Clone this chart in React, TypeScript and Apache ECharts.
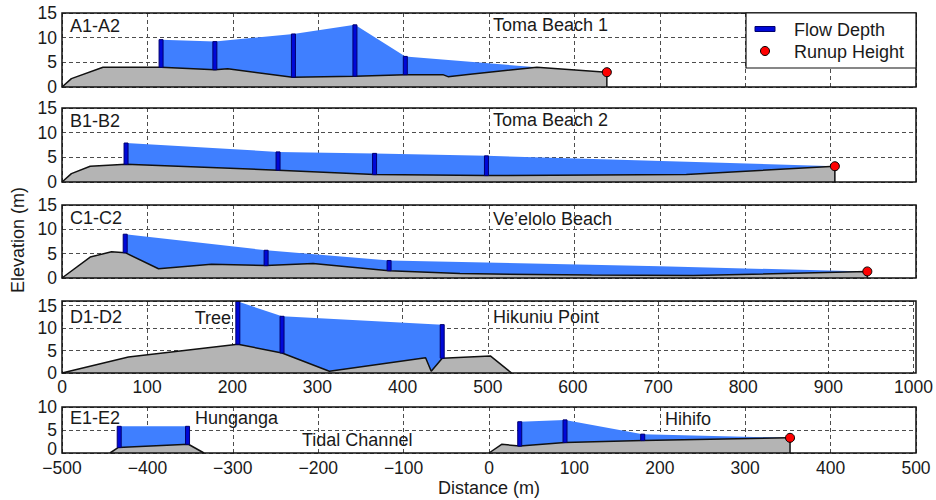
import React, { useEffect, useRef } from "react";
import * as echarts from "echarts";

// Transect profiles: [distance (m), elevation (m)].
// Flow depth readings: [distance (m), ground elevation (m), water surface elevation (m)].

const groundA = [[0, 0], [11, 1.7], [48, 4.0], [116, 4.0], [179, 3.5], [194, 3.7], [270, 2.0], [343, 2.2], [402, 2.5], [446, 2.5], [452, 2.1], [478, 2.6], [556, 4.0], [638, 3.0], [638, 0]];
const depthA = [[116, 4.0, 9.6], [179, 3.5, 9.2], [271, 2.0, 10.75], [343, 2.2, 12.6], [402, 2.5, 6.2]];
const surfaceTailA = [[556, 4.0]];
const runupA = [[638, 3.0]];

const groundB = [[0, 0], [11, 1.7], [33, 3.2], [75, 3.6], [253, 2.4], [366, 1.5], [497, 1.3], [731, 1.5], [905, 3.2], [905, 0]];
const depthB = [[75, 3.6, 7.9], [253, 2.4, 6.1], [366, 1.5, 5.8], [497, 1.3, 5.3]];
const surfaceTailB = [[905, 3.2]];
const runupB = [[905, 3.2]];

const groundC = [[0, 0], [33, 4.3], [58, 5.4], [74, 5.2], [113, 1.9], [175, 2.85], [239, 2.55], [294, 3.0], [383, 1.5], [466, 0.9], [620, 0.6], [739, 0.5], [943, 1.35], [943, 0]];
const depthC = [[74, 5.2, 9.0], [239, 2.55, 5.7], [383, 1.5, 3.6]];
const surfaceTailC = [[700, 2.4], [943, 1.35]];
const runupC = [[943, 1.35]];

const groundD = [[0, 0], [78, 3.55], [206.5, 6.4], [258.4, 4.45], [314, 0.4], [427, 3.4], [433.6, 0.4], [446.5, 3.3], [503, 3.8], [528, 0]];
const depthD = [[206.5, 6.4, 15.9], [258.4, 4.45, 12.6], [446.5, 3.3, 10.75]];

const groundE1 = [[-443.8, 0], [-434, 1.2], [-352, 1.9], [-333.7, 0]];
const depthE1 = [[-433, 1.2, 5.8], [-353, 1.9, 5.8]];
const groundE2 = [[0, 0], [14.8, 1.9], [36, 1.5], [89, 2.3], [180, 2.7], [350.5, 3.3], [352.5, 3.3], [352.5, 0]];
const depthE2 = [[36, 1.5, 6.8], [89, 2.3, 7.2], [180, 2.7, 4.1]];
const surfaceTailE2 = [[352.5, 3.3]];
const runupE2 = [[352.5, 3.3]];

const ticksTop = { min: 0, max: 1000 };
const ticksBottom = { min: -500, max: 500 };

const FONT = "'Liberation Sans', Arial, Helvetica, sans-serif";
const INK = "#1a1a1a";
const WATER = "#3f7fff";
const GROUND = "#b4b4b4";
const POST_FILL = "#0008d8";
const POST_EDGE = "#00006e";
const RUNUP = "#ff0000";

const LEFT = 62;
const WIDTH = 854;

const panels = [
  { top: 13, height: 74, x: ticksTop, yMax: 15, showX: false, liftZero: false },
  { top: 108, height: 74, x: ticksTop, yMax: 15, showX: false, liftZero: false },
  { top: 205, height: 73, x: ticksTop, yMax: 15, showX: false, liftZero: false },
  { top: 301, height: 72, x: ticksTop, yMax: 16, showX: true, liftZero: false },
  { top: 407, height: 46, x: ticksBottom, yMax: 10, showX: true, liftZero: true },
];

const profiles = [
  { panel: 0, grounds: [groundA], waters: [{ depth: depthA, tail: surfaceTailA }], runup: runupA },
  { panel: 1, grounds: [groundB], waters: [{ depth: depthB, tail: surfaceTailB }], runup: runupB },
  { panel: 2, grounds: [groundC], waters: [{ depth: depthC, tail: surfaceTailC }], runup: runupC },
  { panel: 3, grounds: [groundD], waters: [{ depth: depthD, tail: [] }], runup: [] },
  {
    panel: 4,
    grounds: [groundE1, groundE2],
    waters: [{ depth: depthE1, tail: [] }, { depth: depthE2, tail: surfaceTailE2 }],
    runup: runupE2,
  },
];

const annotations = [
  { text: "A1-A2", x: 70, y: 26 },
  { text: "Toma Beach 1", x: 493, y: 25 },
  { text: "B1-B2", x: 70, y: 121 },
  { text: "Toma Beach 2", x: 493, y: 120 },
  { text: "C1-C2", x: 70, y: 218 },
  { text: "Ve\u2019elolo Beach", x: 493, y: 219 },
  { text: "D1-D2", x: 70, y: 317 },
  { text: "Tree", x: 231, y: 318, align: "right" },
  { text: "Hikuniu Point", x: 493, y: 317 },
  { text: "E1-E2", x: 70, y: 418 },
  { text: "Hunganga", x: 195, y: 418 },
  { text: "Tidal Channel", x: 302, y: 440 },
  { text: "Hihifo", x: 665, y: 419 },
];

function renderPost(_params: any, api: any) {
  const x = api.value(0);
  const lo = api.coord([x, api.value(1)]);
  const hi = api.coord([x, api.value(2)]);
  return {
    type: "rect",
    shape: { x: lo[0] - 2, y: hi[1], width: 4, height: lo[1] - hi[1] },
    style: { fill: POST_FILL, stroke: POST_EDGE, lineWidth: 1 },
  };
}

function buildOption() {
  const tickLabel = {
    color: INK,
    fontFamily: FONT,
    fontSize: 17.5,
  };
  const dashed = { show: true, lineStyle: { color: "#4d4d4d", type: [4, 3] as any, width: 1 } };

  const grid = panels.map((p) => ({ left: LEFT, width: WIDTH, top: p.top, height: p.height, show: false }));
  const xAxis = panels.map((p, i) => ({
    type: "value",
    gridIndex: i,
    min: p.x.min,
    max: p.x.max,
    interval: 100,
    axisLine: { show: false },
    axisTick: { show: false },
    axisLabel: {
      ...tickLabel,
      show: p.showX,
      margin: i === 4 ? 6 : 5,
      formatter: (v: number) => (v < 0 ? "\u2212" + Math.abs(v) : String(v)),
    },
    splitLine: dashed,
  }));
  const yAxis = panels.map((p, i) => ({
    type: "value",
    gridIndex: i,
    min: 0,
    max: p.yMax,
    interval: 5,
    axisLine: { show: false },
    axisTick: { show: false },
    axisLabel: {
      ...tickLabel,
      margin: 5,
      showMaxLabel: p.yMax % 5 === 0,
      // the lowest label of the short panel sits a little above its tick
      formatter: (v: number) => (p.liftZero && v === 0 ? "{low|0}" : String(v)),
      rich: {
        low: { ...tickLabel, padding: [0, 0, 9, 0] },
      },
    },
    splitLine: dashed,
  }));

  const series: any[] = [];
  profiles.forEach((pr) => {
    const axes = { xAxisIndex: pr.panel, yAxisIndex: pr.panel };
    pr.waters.forEach((w) => {
      const surface = w.depth.map((d) => [d[0], d[2]]).concat(w.tail);
      series.push({
        type: "line",
        ...axes,
        data: surface,
        symbol: "none",
        lineStyle: { width: 0, color: WATER },
        areaStyle: { color: WATER, opacity: 1 },
        z: 2,
        silent: true,
      });
    });
    pr.grounds.forEach((g) => {
      series.push({
        type: "line",
        ...axes,
        data: g,
        symbol: "none",
        lineStyle: { width: 1.5, color: "#111" },
        areaStyle: { color: GROUND, opacity: 1 },
        z: 3,
        silent: true,
      });
    });
    pr.waters.forEach((w) => {
      series.push({
        type: "custom",
        name: "Flow Depth",
        ...axes,
        data: w.depth,
        encode: { x: 0, y: [1, 2] },
        renderItem: renderPost,
        z: 4,
        silent: true,
      });
    });
    if (pr.runup.length) {
      series.push({
        type: "scatter",
        name: "Runup Height",
        ...axes,
        data: pr.runup,
        symbol: "circle",
        symbolSize: 9,
        itemStyle: { color: RUNUP, borderColor: "#000", borderWidth: 1, opacity: 1 },
        z: 5,
        silent: true,
      });
    }
  });

  const textStyle = (t: string, extra: any = {}) => ({
    text: t,
    fill: INK,
    font: `18px ${FONT}`,
    verticalAlign: "middle",
    ...extra,
  });

  const graphic: any[] = [];
  panels.forEach((p) => {
    graphic.push({
      type: "rect",
      shape: { x: LEFT, y: p.top, width: WIDTH, height: p.height },
      style: { fill: "none", stroke: "#111", lineWidth: 1.5 },
      z: 50,
      silent: true,
    });
  });
  annotations.forEach((a) => {
    graphic.push({
      type: "text",
      x: a.x,
      y: a.y,
      style: textStyle(a.text, { align: a.align || "left" }),
      z: 55,
      silent: true,
    });
  });
  // axis titles
  graphic.push({
    type: "text",
    x: LEFT + WIDTH / 2,
    y: 488,
    style: textStyle("Distance (m)", { align: "center" }),
    z: 55,
  });
  graphic.push({
    type: "text",
    x: 18,
    y: 240,
    rotation: Math.PI / 2,
    style: textStyle("Elevation (m)", { align: "center" }),
    z: 55,
  });
  // legend box
  graphic.push({
    type: "group",
    z: 60,
    children: [
      {
        type: "rect",
        shape: { x: 746, y: 13, width: 170, height: 55 },
        style: { fill: "#fff", stroke: "#111", lineWidth: 1.2 },
        z: 60,
      },
      {
        type: "rect",
        shape: { x: 755, y: 26.5, width: 20, height: 5 },
        style: { fill: POST_FILL, stroke: POST_EDGE, lineWidth: 1 },
        z: 61,
      },
      {
        type: "circle",
        shape: { cx: 765, cy: 51, r: 4.5 },
        style: { fill: RUNUP, stroke: "#000", lineWidth: 1 },
        z: 61,
      },
      { type: "text", x: 794, y: 30, style: textStyle("Flow Depth"), z: 61 },
      { type: "text", x: 794, y: 52, style: textStyle("Runup Height"), z: 61 },
    ],
  });

  return {
    animation: false,
    backgroundColor: "#ffffff",
    grid,
    xAxis,
    yAxis,
    series,
    graphic,
  };
}

export default function App() {
  const ref = useRef<HTMLDivElement>(null);
  useEffect(() => {
    if (!ref.current) return;
    const chart = echarts.init(ref.current, undefined, { renderer: "svg" });
    chart.setOption(buildOption() as any);
    return () => chart.dispose();
  }, []);
  return (
    <div
      ref={ref}
      style={{ position: "fixed", left: 0, top: 0, width: 936, height: 500, background: "#fff" }}
    />
  );
}
